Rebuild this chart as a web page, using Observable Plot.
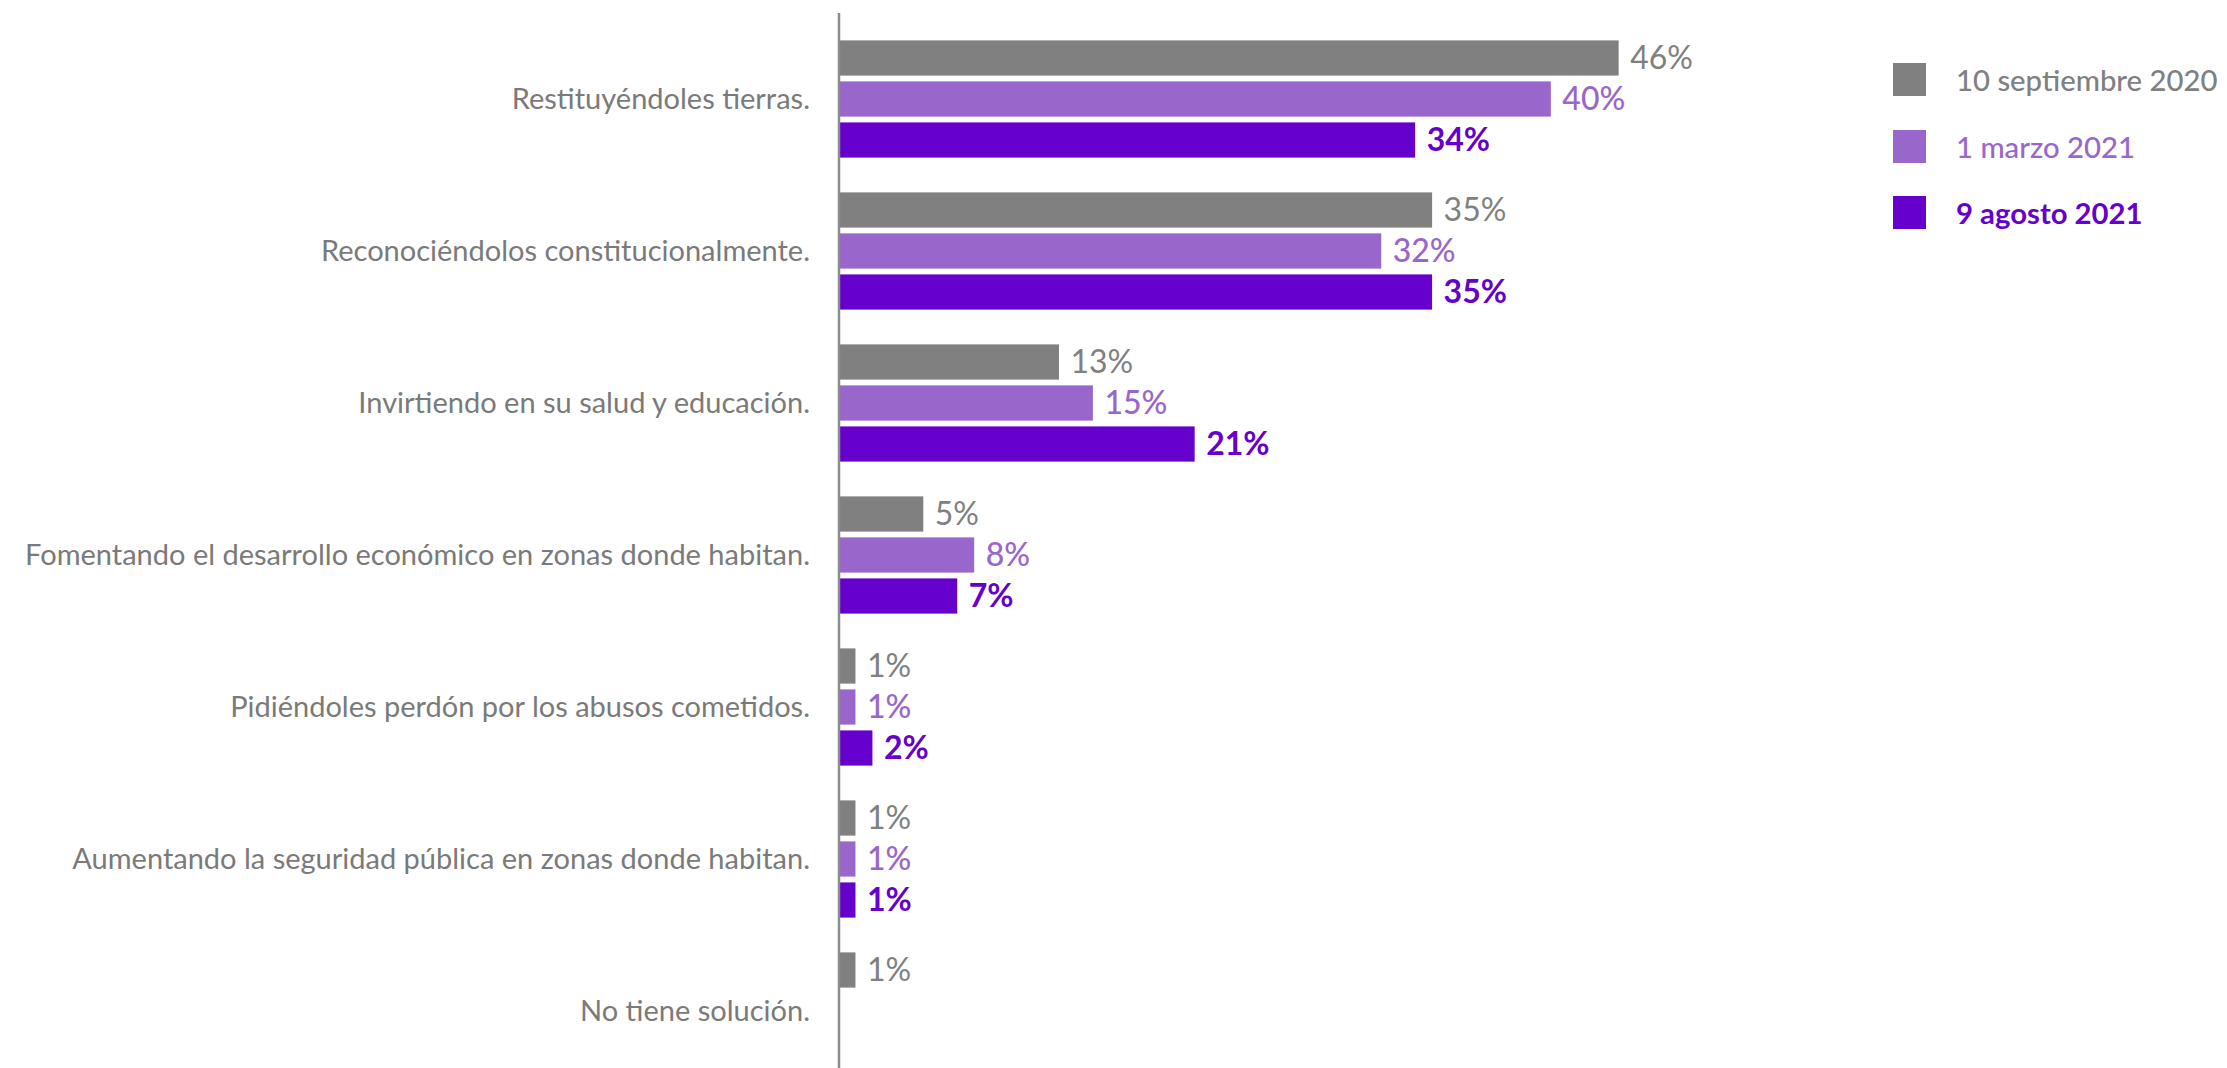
<!DOCTYPE html>
<html>
<head>
<meta charset="utf-8">
<script src="https://cdn.jsdelivr.net/npm/d3@7"></script>
<script src="https://cdn.jsdelivr.net/npm/@observablehq/plot@0.6"></script>
<style>
  html, body { margin: 0; padding: 0; background: #fff; }
  body { display: flex; flex-direction: row; align-items: flex-start; font-family: Lato, "Open Sans", sans-serif; width: 2227px; height: 1068px; overflow: hidden; }
  #chart { flex: none; width: 1880px; }
  #chart svg { max-width: none !important; }
  #legend { flex: none; margin-left: 13px; padding-top: 46px; }
  .row { display: flex; align-items: center; height: 66.7px; }
  .sw { width: 33px; height: 33px; margin-right: 30px; flex: none; }
  .lab { font-size: 29.3px; white-space: nowrap; }
</style>
</head>
<body>
<div id="chart"></div>
<div id="legend"></div>
<script>
// ---- data ----
const categories = [
  "Restituyéndoles tierras.",
  "Reconociéndolos constitucionalmente.",
  "Invirtiendo en su salud y educación.",
  "Fomentando el desarrollo económico en zonas donde habitan.",
  "Pidiéndoles perdón por los abusos cometidos.",
  "Aumentando la seguridad pública en zonas donde habitan.",
  "No tiene solución."
];
const seriesNames = ["10 septiembre 2020", "1 marzo 2021", "9 agosto 2021"];
// bar lengths as drawn (%)
const valuesSep2020 = [46, 35, 13, 5, 1, 1, 1];
const valuesMar2021 = [42, 32, 15, 8, 1, 1, null];
const valuesAgo2021 = [34, 35, 21, 7, 2, 1, null];
// printed labels (%)
const labelsSep2020 = [46, 35, 13, 5, 1, 1, 1];
const labelsMar2021 = [40, 32, 15, 8, 1, 1, null];
const labelsAgo2021 = [34, 35, 21, 7, 2, 1, null];

// ---- styles ----
const seriesColors = ["#808080", "#9966cc", "#6600cc"];
const labelWeights = [400, 500, 700];
const legendWeights = [500, 500, 700];

const seriesValues = [valuesSep2020, valuesMar2021, valuesAgo2021];
const seriesLabels = [labelsSep2020, labelsMar2021, labelsAgo2021];

const rows = [];
seriesNames.forEach((s, si) => {
  categories.forEach((c, ci) => {
    const v = seriesValues[si][ci];
    if (v != null) rows.push({category: c, series: s, si, value: v, label: seriesLabels[si][ci] + "%"});
  });
});

const W = 1880, H = 1068;
const x0 = 838.5, pxPerPct = 16.96;
const bandTop = 22.1, step = 152.4;
const barH = 35.6, inner = 41;

const marks = [];
seriesNames.forEach((s, si) => {
  const off = (si - 1) * inner; // center offset within band
  const top = step / 2 + off - barH / 2;
  const bottom = step - top - barH;
  const data = rows.filter(d => d.si === si);
  marks.push(Plot.barX(data, {x: "value", y: "category", fill: seriesColors[si], insetTop: top, insetBottom: bottom}));
  marks.push(Plot.text(data, {x: "value", y: "category", text: "label", dy: off, dx: 11, textAnchor: "start",
    fill: seriesColors[si], fontSize: 32, fontWeight: labelWeights[si]}));
});

const chart = Plot.plot({
  width: W,
  height: H,
  marginTop: 13,
  marginBottom: 0,
  marginLeft: x0,
  marginRight: 0,
  style: {fontFamily: "Lato, 'Open Sans', sans-serif", background: "#fff", overflow: "visible"},
  x: {domain: [0, 60], range: [x0, x0 + 60 * pxPerPct], axis: null},
  y: {domain: categories, range: [bandTop, bandTop + categories.length * step], padding: 0},
  marks: [
    Plot.axisY({tickSize: 0, tickPadding: 29, fontSize: 29, color: "#7a7a7a", label: null}),
    ...marks,
    Plot.ruleX([0], {stroke: "#8c8c8c", strokeWidth: 2.5})
  ]
});
document.getElementById("chart").appendChild(chart);

const legend = document.getElementById("legend");
seriesNames.forEach((s, si) => {
  const row = document.createElement("div");
  row.className = "row";
  const sw = document.createElement("div");
  sw.className = "sw";
  sw.style.background = seriesColors[si];
  const lab = document.createElement("div");
  lab.className = "lab";
  lab.textContent = s;
  lab.style.color = seriesColors[si];
  lab.style.fontWeight = legendWeights[si];
  row.appendChild(sw);
  row.appendChild(lab);
  legend.appendChild(row);
});
</script>
</body>
</html>
